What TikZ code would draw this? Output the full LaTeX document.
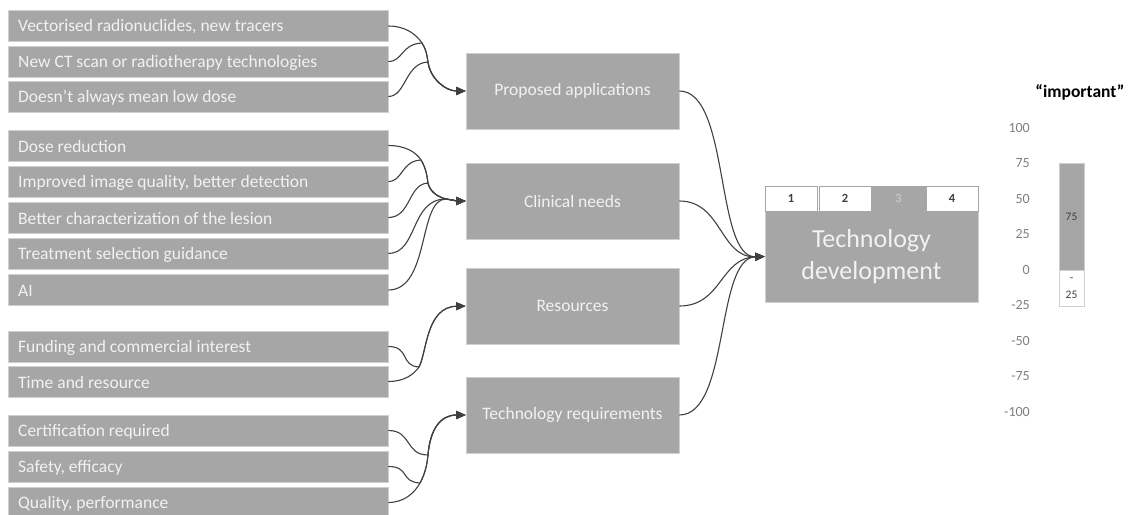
\documentclass[tikz,border=0pt]{standalone}
\usepackage{fontspec}
\setmainfont{Carlito}
\usetikzlibrary{arrows.meta}
\definecolor{boxgray}{HTML}{A6A6A6}
\definecolor{txtlight}{HTML}{F2F2F2}
\definecolor{linecol}{HTML}{404040}
\definecolor{edgegray}{HTML}{D0D0D0}
\definecolor{scalecol}{HTML}{7F7F7F}
\tikzset{
  leftbox/.style={fill=boxgray, draw=edgegray, line width=0.6pt, minimum width=380pt, minimum height=31pt,
    inner sep=0pt, text=txtlight, font=\fontsize{17.5}{20}\selectfont, align=left},
  lefttext/.style={anchor=west, inner sep=0pt, text=txtlight, font=\fontsize{17.5}{20}\selectfont},
  midbox/.style={fill=boxgray, draw=edgegray, line width=0.6pt, minimum width=213pt, minimum height=76pt,
    inner sep=0pt, text=txtlight, font=\fontsize{17.5}{20}\selectfont},
  cellbox/.style={fill=white, draw=boxgray, line width=0.8pt, minimum height=25pt, inner sep=0pt,
    text=linecol, font=\fontsize{12.5}{14}\selectfont\bfseries},
  conn/.style={draw=linecol, line width=1.1pt, -{Triangle[length=9.5pt,width=8pt]}},
  scalelbl/.style={anchor=east, inner sep=0pt, text=scalecol, font=\fontsize{14}{16}\selectfont},
  barlbl/.style={inner sep=0pt, text=linecol, font=\fontsize{11.5}{13}\selectfont}
}
\begin{document}
\begin{tikzpicture}[x=1pt,y=-1pt]
\useasboundingbox (0,0) rectangle (1135,514);
\clip (0,0) rectangle (1135,514);
% left boxes
\foreach \nm/\cy/\txt in {
  l1/26/{Vectorised radionuclides, new tracers},
  l2/61.5/{New CT scan or radiotherapy technologies},
  l3/96.5/{Doesn't always mean low dose},
  l4/145.5/{Dose reduction},
  l5/181.5/{Improved image quality, better detection},
  l6/217.5/{Better characterization of the lesion},
  l7/253.5/{Treatment selection guidance},
  l8/290/{AI},
  l9/346.5/{Funding and commercial interest},
  l10/381.5/{Time and resource},
  l11/430.5/{Certification required},
  l12/466.5/{Safety, efficacy},
  l13/502.5/{Quality, performance}}{
  \node[leftbox] (\nm) at (198,\cy) {};
  \node[lefttext] (\nm t) at (18,\cy+1) {\txt};
}
% middle boxes
\node[midbox] (pa) at (572.5,91) {Proposed applications};
\node[midbox] (cn) at (572.5,201) {Clinical needs};
\node[midbox] (rs) at (572.5,306) {Resources};
\node[midbox] (tr) at (572.5,415) {Technology requirements};
% technology development
\node[fill=boxgray, draw=edgegray, line width=0.6pt, minimum width=213pt, minimum height=91pt, inner sep=0pt,
  text=txtlight, align=center, font=\fontsize{26}{32}\selectfont] (td) at (871.5,256.5) {Technology\\development};
\node[cellbox, minimum width=52pt] (c1) at (791,198.5) {1};
\node[cellbox, minimum width=52pt] (c2) at (845,198.5) {2};
\node[cellbox, minimum width=54pt, fill=boxgray, text=edgegray, font=\fontsize{12.5}{14}\selectfont] (c3) at (898.5,198.5) {3};
\node[cellbox, minimum width=52pt] (c4) at (952,198.5) {4};
% junctions
\coordinate (g1a) at (422,43);
\coordinate (g1b) at (428,62);
\coordinate (g2a) at (421,160);
\coordinate (g2b) at (428,183);
\coordinate (g2c) at (446,199);
\coordinate (g3a) at (419,367);
\coordinate (g4a) at (420,483);
\coordinate (g4b) at (428,455);
% group 1
\draw[conn] (l1.east) .. controls (405,26) and (416,34) .. (g1a) .. controls (426,49) and (427,55) .. (g1b) .. controls (430,78) and (445,91) .. (pa.west);
\draw[conn] (l2.east) .. controls (403,61.5) and (401,44) .. (g1a) .. controls (426,49) and (427,55) .. (g1b) .. controls (430,78) and (445,91) .. (pa.west);
\draw[conn] (l3.east) .. controls (406,96.5) and (405,63) .. (g1b) .. controls (430,78) and (445,91) .. (pa.west);
% group 2
\draw[conn] (l4.east) .. controls (405,145.5) and (416,152) .. (g2a) .. controls (426,168) and (427,176) .. (g2b) .. controls (430,192) and (438,197) .. (g2c) .. controls (452,200) and (458,201) .. (cn.west);
\draw[conn] (l5.east) .. controls (403,181.5) and (401,161) .. (g2a) .. controls (426,168) and (427,176) .. (g2b) .. controls (430,192) and (438,197) .. (g2c) .. controls (452,200) and (458,201) .. (cn.west);
\draw[conn] (l6.east) .. controls (411,217.5) and (408,184) .. (g2b) .. controls (430,192) and (438,197) .. (g2c) .. controls (452,200) and (458,201) .. (cn.west);
\draw[conn] (l7.east) .. controls (418,253.5) and (410,199) .. (g2c) .. controls (452,200) and (458,201) .. (cn.west);
\draw[conn] (l8.east) .. controls (430,290) and (418,199) .. (g2c) .. controls (452,200) and (458,201) .. (cn.west);
% group 3
\draw[conn] (l10.east) .. controls (405,381.5) and (414,374) .. (g3a) .. controls (427,352) and (426,307) .. (rs.west);
\draw[conn] (l9.east) .. controls (410,346.5) and (400,366) .. (g3a) .. controls (427,352) and (426,307) .. (rs.west);
% group 4
\draw[conn] (l13.east) .. controls (405,502.5) and (415,492) .. (g4a) .. controls (425,474) and (427,465) .. (g4b) .. controls (430,430) and (440,415) .. (tr.west);
\draw[conn] (l12.east) .. controls (410,466.5) and (400,482) .. (g4a) .. controls (425,474) and (427,465) .. (g4b) .. controls (430,430) and (440,415) .. (tr.west);
\draw[conn] (l11.east) .. controls (412,430.5) and (405,455) .. (g4b) .. controls (430,430) and (440,415) .. (tr.west);
% right connectors
\draw[conn] (pa.east) .. controls (730,91) and (715,258) .. (td.west);
\draw[conn] (cn.east) .. controls (722,201) and (720,258) .. (td.west);
\draw[conn] (rs.east) .. controls (722,306) and (720,258) .. (td.west);
\draw[conn] (tr.east) .. controls (730,415) and (715,258) .. (td.west);
% scale
\node[font=\fontsize{17.5}{20}\selectfont\bfseries] (imp) at (1080,92) {“important”};
\foreach \v/\yy [count=\i] in {100/128,75/163.5,50/199,25/234.5,0/270,-25/305.5,-50/341,-75/376.5,-100/412}{
  \node[scalelbl] (sc\i) at (1030,\yy) {\v};
}
\node[fill=boxgray, draw=edgegray, line width=0.6pt, minimum width=25pt, minimum height=107pt, inner sep=0pt] (barp) at (1071.5,216.5) {};
\node[fill=white, draw=edgegray, line width=0.8pt, minimum width=25pt, minimum height=36pt, inner sep=0pt] (barn) at (1071.5,288) {};
\node[barlbl] (b75) at (barp.center) {75};
\node[barlbl] (bm) at (1071.5,280) {-};
\node[barlbl] (b25) at (1071.5,295) {25};
\end{tikzpicture}
\end{document}
